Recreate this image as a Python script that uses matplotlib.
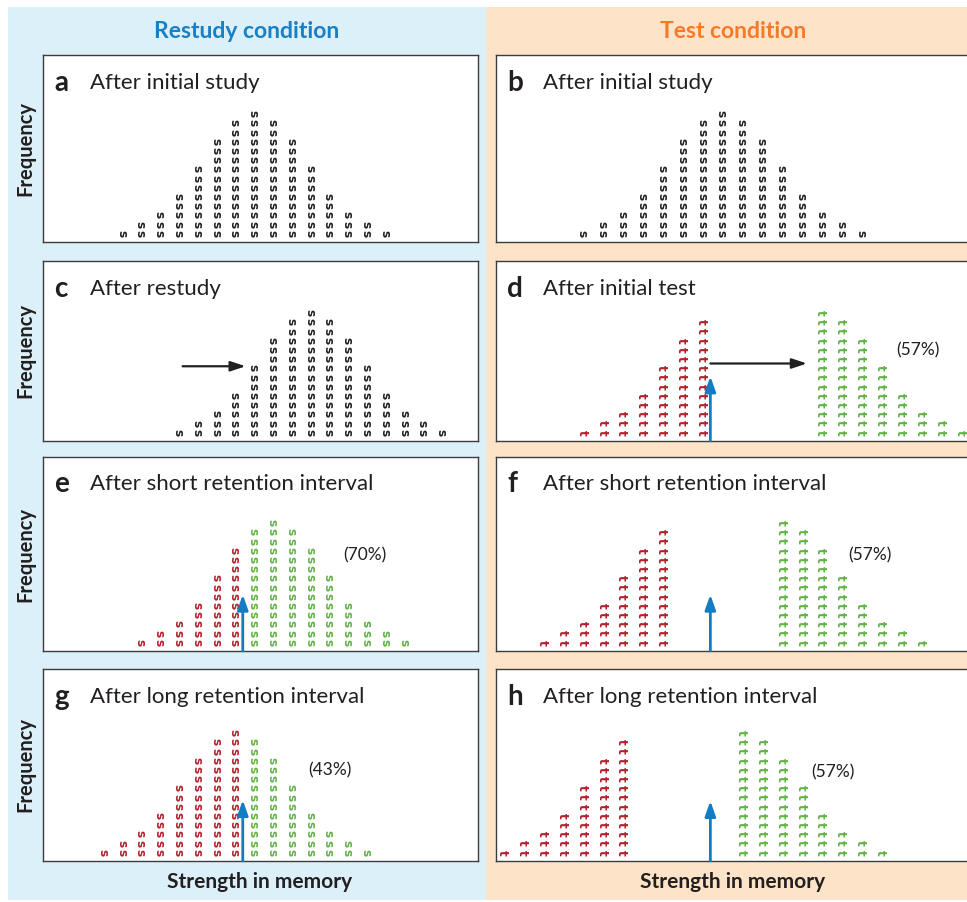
import matplotlib
matplotlib.use('Agg')
import matplotlib.pyplot as plt
from matplotlib.patches import Rectangle

# ---------------- data ----------------
initial_freq = [1, 2, 3, 5, 8, 11, 13, 14, 13, 11, 8, 5, 3, 2, 1]

a_pos = list(range(0, 15))
a_freq = initial_freq
b_pos = list(range(0, 15))
b_freq = initial_freq
c_pos = list(range(3, 18))
c_freq = initial_freq
e_pos = list(range(1, 16))
e_freq = initial_freq
g_pos = list(range(-1, 14))
g_freq = initial_freq

fail_freq = [1, 2, 3, 5, 8, 11, 13]
pass_freq = [14, 13, 11, 8, 5, 3, 2, 1]
d_fail_pos = list(range(0, 7))
d_pass_pos = list(range(12, 20))
f_fail_pos = list(range(-2, 5))
f_pass_pos = list(range(10, 18))
h_fail_pos = list(range(-4, 3))
h_pass_pos = list(range(8, 16))

threshold = 6.45
percents = {'d': '(57%)', 'e': '(70%)', 'f': '(57%)', 'g': '(43%)', 'h': '(57%)'}
panel_titles = {
    'a': 'After initial study', 'b': 'After initial study',
    'c': 'After restudy', 'd': 'After initial test',
    'e': 'After short retention interval', 'f': 'After short retention interval',
    'g': 'After long retention interval', 'h': 'After long retention interval',
}

# ---------------- style ----------------
W, H = 967, 902
RED = '#b31f2b'
GREEN = '#62b246'
BLACK = '#231f20'
ARROW_BLUE = '#137cc2'
BG_BLUE = '#dcf0fa'
BG_PEACH = '#fde3c8'
TITLE_BLUE = '#1a7fc3'
TITLE_ORANGE = '#f47b2a'
FONT = ['Lato', 'DejaVu Sans']

fig = plt.figure(figsize=(W / 100, H / 100), dpi=100)
fig.patch.set_facecolor('white')

def fx(px):
    return px / W

def fy(py):
    return 1 - py / H

fig.patches.append(Rectangle((fx(8), fy(900)), (486 - 8) / W, (900 - 7) / H,
                             transform=fig.transFigure, facecolor=BG_BLUE,
                             edgecolor='none', zorder=-5))
fig.patches.append(Rectangle((fx(486), fy(900)), (970 - 486) / W, (900 - 7) / H,
                             transform=fig.transFigure, facecolor=BG_PEACH,
                             edgecolor='none', zorder=-5))

fig.text(fx(247), fy(32), 'Restudy condition', color=TITLE_BLUE, fontsize=16.5,
         fontweight='bold', family=FONT, ha='center', va='center')
fig.text(fx(733), fy(32), 'Test condition', color=TITLE_ORANGE, fontsize=16.5,
         fontweight='bold', family=FONT, ha='center', va='center')

rows_px = {0: (55, 242), 1: (261, 441), 2: (457, 651), 3: (669, 861)}
LEFT = dict(x0=43, x1=478, col0=121.5, pitch=18.8)
RIGHT = dict(x0=496, x1=980, col0=582, pitch=19.9)
PITCH_Y = 9.2
OFFSET_Y = 8.5

def make_ax(side, row):
    y0, y1 = rows_px[row]
    x0, x1 = side['x0'], side['x1']
    ax = fig.add_axes([fx(x0), fy(y1), (x1 - x0) / W, (y1 - y0) / H])
    ax.set_xlim((x0 - side['col0']) / side['pitch'], (x1 - side['col0']) / side['pitch'])
    ax.set_ylim(-OFFSET_Y / PITCH_Y, (y1 - y0 - OFFSET_Y) / PITCH_Y)
    ax.set_xticks([])
    ax.set_yticks([])
    ax.set_facecolor('white')
    for sp in ax.spines.values():
        sp.set_color('#3c3c3c')
        sp.set_linewidth(1.0)
    if side is RIGHT:
        ax.spines['right'].set_visible(False)
    return ax

def draw_columns(ax, pos, freq, char, color_fn):
    for p, n in zip(pos, freq):
        col = color_fn(p)
        for r in range(n):
            ax.text(p, r, char, rotation=-90, ha='center', va='center',
                    fontsize=8.7, fontweight='bold', color=col,
                    family='DejaVu Sans', clip_on=True)

def thresh_color(p):
    return RED if p < threshold else GREEN

def blue_arrow(ax, x, top):
    ymin = ax.get_ylim()[0]
    ax.annotate('', xy=(x, top), xytext=(x, ymin),
                arrowprops=dict(arrowstyle='-|>,head_length=0.9,head_width=0.32',
                                color=ARROW_BLUE, lw=2.0, shrinkA=0, shrinkB=0),
                annotation_clip=False)

def black_arrow(ax, xa, xb, y):
    ax.annotate('', xy=(xb, y), xytext=(xa, y),
                arrowprops=dict(arrowstyle='-|>,head_length=0.9,head_width=0.3',
                                color=BLACK, lw=1.6, shrinkA=0, shrinkB=0),
                annotation_clip=False)

axes = {}
axes['a'] = make_ax(LEFT, 0)
axes['b'] = make_ax(RIGHT, 0)
axes['c'] = make_ax(LEFT, 1)
axes['d'] = make_ax(RIGHT, 1)
axes['e'] = make_ax(LEFT, 2)
axes['f'] = make_ax(RIGHT, 2)
axes['g'] = make_ax(LEFT, 3)
axes['h'] = make_ax(RIGHT, 3)

draw_columns(axes['a'], a_pos, a_freq, 's', lambda p: BLACK)
draw_columns(axes['b'], b_pos, b_freq, 's', lambda p: BLACK)
draw_columns(axes['c'], c_pos, c_freq, 's', lambda p: BLACK)
draw_columns(axes['e'], e_pos, e_freq, 's', thresh_color)
draw_columns(axes['g'], g_pos, g_freq, 's', thresh_color)
draw_columns(axes['d'], d_fail_pos, fail_freq, 't', lambda p: RED)
draw_columns(axes['d'], d_pass_pos, pass_freq, 't', lambda p: GREEN)
draw_columns(axes['f'], f_fail_pos, fail_freq, 't', lambda p: RED)
draw_columns(axes['f'], f_pass_pos, pass_freq, 't', lambda p: GREEN)
draw_columns(axes['h'], h_fail_pos, fail_freq, 't', lambda p: RED)
draw_columns(axes['h'], h_pass_pos, pass_freq, 't', lambda p: GREEN)

black_arrow(axes['c'], 3.25, 6.6, 7.2)
black_arrow(axes['d'], 6.45, 11.3, 7.5)
blue_arrow(axes['d'], threshold, 6.1)
blue_arrow(axes['e'], threshold, 5.2)
blue_arrow(axes['f'], threshold, 5.2)
blue_arrow(axes['g'], threshold, 5.7)
blue_arrow(axes['h'], threshold, 5.6)

# percentage labels (pixel positions)
pct_pos = {'d': (918, 350), 'e': (365, 555), 'f': (870, 555), 'g': (330, 770), 'h': (833, 772)}
for k, (px, py) in pct_pos.items():
    fig.text(fx(px), fy(py), percents[k], fontsize=12.5, color=BLACK, family=FONT,
             ha='center', va='center', zorder=10)

# panel letters and titles
title_y = {0: 83, 1: 289, 2: 484, 3: 697}
for k, side, row in [('a', LEFT, 0), ('b', RIGHT, 0), ('c', LEFT, 1), ('d', RIGHT, 1),
                     ('e', LEFT, 2), ('f', RIGHT, 2), ('g', LEFT, 3), ('h', RIGHT, 3)]:
    x0 = side['x0']
    ty = title_y[row]
    fig.text(fx(x0 + 11), fy(ty), k, fontsize=20, fontweight='bold', color=BLACK,
             family=FONT, ha='left', va='center', zorder=10)
    fig.text(fx(x0 + 47), fy(ty), panel_titles[k], fontsize=16, color=BLACK,
             family=FONT, ha='left', va='center', zorder=10)

# Frequency labels
for row, (y0, y1) in rows_px.items():
    fig.text(fx(25), fy((y0 + y1) / 2), 'Frequency', rotation=90, fontsize=14.5,
             fontweight='bold', color=BLACK, family=FONT, ha='center', va='center')

fig.text(fx(260), fy(882), 'Strength in memory', fontsize=15, fontweight='bold',
         color=BLACK, family=FONT, ha='center', va='center')
fig.text(fx(733), fy(882), 'Strength in memory', fontsize=15, fontweight='bold',
         color=BLACK, family=FONT, ha='center', va='center')

fig.savefig('out.png', dpi=100, facecolor='white')
